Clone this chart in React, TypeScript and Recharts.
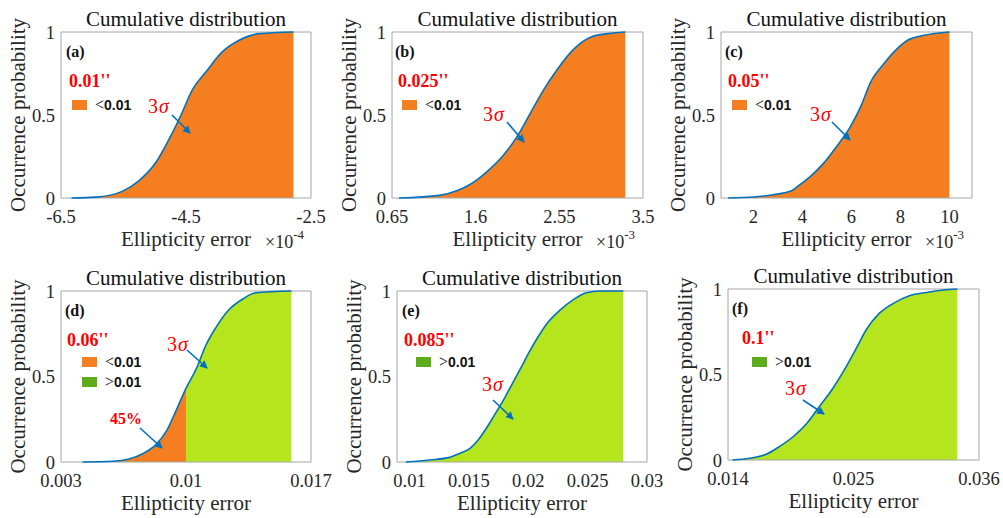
import { ComposedChart, Area, Line, XAxis, YAxis, ReferenceArea } from 'recharts'

// CDF points (x in the axis' own units, y = occurrence probability)
const aX = [-6.33, -5.94, -5.52, -5.25, -4.98, -4.77, -4.58, -4.4, -4.18, -3.92, -3.65, -3.33, -2.78]
const aY = [0, 0.005, 0.04, 0.105, 0.215, 0.354, 0.5, 0.65, 0.76, 0.88, 0.95, 0.99, 1]

const bX = [0.73, 1.19, 1.4, 1.53, 1.72, 1.91, 2.07, 2.22, 2.37, 2.52, 2.72, 2.91, 3.1, 3.3]
const bY = [0, 0.016, 0.046, 0.08, 0.155, 0.254, 0.37, 0.51, 0.65, 0.77, 0.9, 0.97, 0.99, 1]

const cX = [0.97, 2.0, 2.82, 3.5, 3.9, 4.33, 4.87, 5.42, 5.96, 6.38, 6.79, 7.33, 7.74, 8.29, 8.97, 10.0]
const cY = [0, 0.006, 0.02, 0.04, 0.08, 0.13, 0.21, 0.315, 0.43, 0.55, 0.7, 0.81, 0.88, 0.95, 0.98, 1]

const dX = [0.0042, 0.0059, 0.0068, 0.0076, 0.0083, 0.0089, 0.0094, 0.01, 0.0106, 0.0111, 0.0117, 0.0124, 0.0132, 0.0139, 0.0159]
const dY = [0, 0.004, 0.017, 0.05, 0.1, 0.18, 0.29, 0.43, 0.55, 0.68, 0.79, 0.89, 0.955, 0.99, 1]

const eX = [0.0097, 0.0117, 0.0134, 0.0142, 0.0151, 0.0158, 0.0165, 0.0172, 0.0179, 0.0186, 0.0193, 0.0201, 0.0209, 0.0217, 0.0227, 0.0238, 0.0249, 0.026, 0.028]
const eY = [0, 0.012, 0.027, 0.05, 0.08, 0.13, 0.2, 0.28, 0.36, 0.45, 0.54, 0.645, 0.74, 0.82, 0.89, 0.95, 0.99, 1, 1]

const fX = [0.0144, 0.0159, 0.0174, 0.0185, 0.0197, 0.0209, 0.022, 0.0232, 0.0244, 0.0253, 0.0261, 0.0273, 0.0285, 0.0299, 0.0314, 0.0329, 0.0341]
const fY = [0, 0.01, 0.035, 0.078, 0.136, 0.214, 0.312, 0.42, 0.55, 0.66, 0.76, 0.86, 0.916, 0.96, 0.98, 0.994, 1]

const aTicks = [-6.5, -4.5, -2.5]
const bTicks = [0.65, 1.6, 2.55, 3.5]
const cTicks = [2, 4, 6, 8, 10]
const dTicks = [0.003, 0.01, 0.017]
const eTicks = [0.01, 0.015, 0.02, 0.025, 0.03]
const fTicks = [0.014, 0.025, 0.036]
const yTicks = [0, 0.5, 1]

const ORANGE = '#F57F20'
const LIME = '#B5E51D'
const GREEN = '#5DAD1B'
const BLUE = '#0072BD'
const RED = '#FF0000'
const SERIF = 'Liberation Serif'
const SANS = 'Liberation Sans'

const YW = 50
const MT = 10
const MR = 28
const XH = 35

type Leg = { color: string; label: string; x: number; y: number }
type PanelCfg = {
  xs: number[]
  ys: number[]
  ticks: number[]
  domain: [number, number]
  frame: [number, number, number, number]
  cut: number
  exp?: string
  tag: string
  tagAt: [number, number]
  res: string
  resAt: [number, number]
  legend: Leg[]
  sigmaAt: [number, number]
  arrow: [number, number, number, number]
  pct?: { text: string; at: [number, number]; arrow: [number, number, number, number] }
}

const panels: PanelCfg[] = [
  {
    xs: aX, ys: aY, ticks: aTicks, domain: [-6.5, -2.5], frame: [61, 32, 250, 166], cut: Infinity, exp: '-4',
    tag: '(a)', tagAt: [66, 57], res: "0.01''", resAt: [69, 87],
    legend: [{ color: ORANGE, label: '<0.01', x: 72, y: 100 }],
    sigmaAt: [148, 113], arrow: [172, 115, 190, 133],
  },
  {
    xs: bX, ys: bY, ticks: bTicks, domain: [0.65, 3.5], frame: [392, 32, 251, 166], cut: Infinity, exp: '-3',
    tag: '(b)', tagAt: [395, 57], res: "0.025''", resAt: [398, 87],
    legend: [{ color: ORANGE, label: '<0.01', x: 402, y: 100 }],
    sigmaAt: [483, 121], arrow: [507, 122, 524, 142],
  },
  {
    xs: cX, ys: cY, ticks: cTicks, domain: [0.68, 10.92], frame: [721, 32, 251, 166], cut: Infinity, exp: '-3',
    tag: '(c)', tagAt: [725, 57], res: "0.05''", resAt: [728, 87],
    legend: [{ color: ORANGE, label: '<0.01', x: 732, y: 100 }],
    sigmaAt: [810, 121], arrow: [832, 122, 850, 140],
  },
  {
    xs: dX, ys: dY, ticks: dTicks, domain: [0.003, 0.017], frame: [61, 291, 250, 171], cut: 0.01,
    tag: '(d)', tagAt: [65, 316], res: "0.06''", resAt: [67, 346],
    legend: [
      { color: ORANGE, label: '<0.01', x: 82, y: 357 },
      { color: GREEN, label: '>0.01', x: 82, y: 377 },
    ],
    sigmaAt: [167, 351], arrow: [187, 350, 207, 368],
    pct: { text: '45%', at: [110, 424], arrow: [140, 428, 162, 448] },
  },
  {
    xs: eX, ys: eY, ticks: eTicks, domain: [0.00895, 0.03], frame: [397, 291, 250, 171], cut: -Infinity,
    tag: '(e)', tagAt: [402, 316], res: "0.085''", resAt: [404, 346],
    legend: [{ color: GREEN, label: '>0.01', x: 416, y: 357 }],
    sigmaAt: [482, 391], arrow: [493, 400, 513, 419],
  },
  {
    xs: fX, ys: fY, ticks: fTicks, domain: [0.014, 0.036], frame: [728, 289, 251, 171], cut: -Infinity,
    tag: '(f)', tagAt: [732, 314], res: "0.1''", resAt: [742, 344],
    legend: [{ color: GREEN, label: '>0.01', x: 752, y: 357 }],
    sigmaAt: [785, 395], arrow: [803, 400, 824, 414],
  },
]

const tickStyle = { fill: '#262626', fontSize: 18.5, fontFamily: SERIF }

function Panel({ p }: { p: PanelCfg }) {
  const [fx, fy, fw, fh] = p.frame
  const rows = p.xs.map((x, i) => ({
    x,
    y: p.ys[i],
    lo: x <= p.cut ? p.ys[i] : null,
    hi: x >= p.cut ? p.ys[i] : null,
  }))
  return (
    <div style={{ position: 'absolute', left: fx - YW, top: fy - MT }}>
      <ComposedChart
        width={fw + YW + MR}
        height={fh + MT + XH}
        data={rows}
        margin={{ top: MT, right: MR, left: 0, bottom: 0 }}
      >
        <XAxis
          type="number"
          dataKey="x"
          domain={p.domain}
          ticks={p.ticks}
          interval={0}
          allowDataOverflow
          axisLine={false}
          tickLine={false}
          tickSize={8}
          tickMargin={4}
          height={XH}
          tick={tickStyle}
          tickFormatter={(v) => String(v)}
        />
        <YAxis
          type="number"
          domain={[0, 1]}
          ticks={yTicks}
          interval={0}
          axisLine={false}
          tickLine={false}
          tickSize={4}
          tickMargin={2}
          width={YW}
          tick={tickStyle}
        />
        <Area dataKey="lo" type="monotone" fill={ORANGE} fillOpacity={1} stroke="none" isAnimationActive={false} />
        <Area dataKey="hi" type="monotone" fill={LIME} fillOpacity={1} stroke="none" isAnimationActive={false} />
        <Line dataKey="y" type="monotone" stroke={BLUE} strokeWidth={1.6} dot={false} isAnimationActive={false} />
        <ReferenceArea x1={p.domain[0]} x2={p.domain[1]} y1={0} y2={1} fill="none" stroke="#A6A6A6" strokeWidth={1} />
      </ComposedChart>
    </div>
  )
}

function Arrow({ a }: { a: [number, number, number, number] }) {
  return <line x1={a[0]} y1={a[1]} x2={a[2]} y2={a[3]} stroke={BLUE} strokeWidth={1.6} markerEnd="url(#ah)" />
}

function Notes({ p }: { p: PanelCfg }) {
  const [fx, fy, fw, fh] = p.frame
  const cx = fx + fw / 2
  return (
    <g fontFamily={SERIF}>
      <text x={cx} y={fy - 6} textAnchor="middle" fontSize={21} fill="#111">Cumulative distribution</text>
      <text x={cx} y={fy + fh + 48} textAnchor="middle" fontSize={21} fill="#262626">Ellipticity error</text>
      {p.exp && (
        <text x={fx + 204} y={fy + fh + 50} fontSize={18} fill="#262626">
          ×10<tspan dy={-9} fontSize={13}>{p.exp}</tspan>
        </text>
      )}
      <text transform={`translate(${fx - 36},${fy + fh / 2}) rotate(-90)`} textAnchor="middle" fontSize={21} fill="#262626">
        Occurrence probability
      </text>
      <text x={p.tagAt[0]} y={p.tagAt[1]} fontSize={16} fontWeight="bold" fill="#111">{p.tag}</text>
      <text x={p.resAt[0]} y={p.resAt[1]} fontSize={18} fontWeight="bold" fill={RED}>{p.res}</text>
      {p.legend.map((l) => (
        <g key={l.label}>
          <rect x={l.x} y={l.y} width={15} height={10} fill={l.color} />
          <text x={l.x + 23} y={l.y + 10} fontSize={16} fill="#111">
            {l.label[0]}
            <tspan fontFamily={SANS} fontSize={14} fontWeight="bold">{l.label.slice(1)}</tspan>
          </text>
        </g>
      ))}
      <text x={p.sigmaAt[0]} y={p.sigmaAt[1]} fontSize={20} letterSpacing={1} fill={RED}>
        3<tspan fontStyle="italic">σ</tspan>
      </text>
      <Arrow a={p.arrow} />
      {p.pct && (
        <>
          <text x={p.pct.at[0]} y={p.pct.at[1]} fontSize={16} fontWeight="bold" fill={RED}>{p.pct.text}</text>
          <Arrow a={p.pct.arrow} />
        </>
      )}
    </g>
  )
}

export default function App() {
  return (
    <div style={{ position: 'absolute', left: 0, top: 0, width: 1003, height: 518, background: '#fff', overflow: 'hidden' }}>
      {panels.map((p) => (
        <Panel key={p.tag} p={p} />
      ))}
      <svg width={1003} height={518} style={{ position: 'absolute', left: 0, top: 0, pointerEvents: 'none' }}>
        <defs>
          <marker id="ah" markerUnits="userSpaceOnUse" markerWidth={10} markerHeight={10} refX={7} refY={4} orient="auto">
            <path d="M0,0 L8,4 L0,8 z" fill={BLUE} />
          </marker>
        </defs>
        {panels.map((p) => (
          <Notes key={p.tag} p={p} />
        ))}
      </svg>
    </div>
  )
}
